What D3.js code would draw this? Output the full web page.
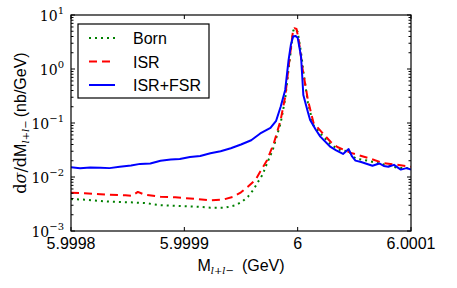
<!DOCTYPE html>
<html><head><meta charset="utf-8">
<script src="https://cdn.jsdelivr.net/npm/d3@7"></script>
<style>
body{margin:0;background:#fff;}
text{font-family:"Liberation Sans",Arial,sans-serif;}
</style></head>
<body><svg id="c" width="457" height="288"></svg>
<script>
// offsets from 6 GeV in units of 1e-6 GeV
const bornX = [-200,-188,-174,-166,-148,-135,-121,-104,-86,-77,-64,-55,-49,-44,-39,-35,-31,-27,-22,-15,-11,-8,-4,-3,0,3,5,9,14,22,29,38,45,51,62,76,88,100];
const bornY = [0.0039,0.0038,0.0036,0.0035,0.0034,0.0033,0.0030,0.0029,0.0028,0.0027,0.0027,0.0030,0.0035,0.0043,0.0058,0.0081,0.011,0.018,0.0316,0.1,0.28,1.0,5.0,5.6,4.9,2.0,0.9,0.24,0.09,0.058,0.04,0.031,0.03,0.022,0.020,0.017,0.0148,0.0145];
const isrX = [-200,-188,-174,-166,-152,-146,-141,-135,-121,-108,-95,-77,-66,-57,-50,-44,-37,-33,-27,-21,-15,-11,-8,-4,-3,-1,1,4,9,14,22,29,35,47,62,76,88,100];
const isrY = [0.0051,0.0050,0.0048,0.0047,0.0046,0.0045,0.0053,0.0047,0.0043,0.0042,0.0040,0.0037,0.0038,0.0043,0.0052,0.0066,0.0090,0.0126,0.0205,0.0424,0.114,0.306,1.10,5.3,5.7,5.5,3.4,1.1,0.27,0.1,0.065,0.045,0.036,0.028,0.0226,0.018,0.0168,0.0155];
const fsrX = [-200,-192,-183,-174,-166,-157,-147,-139,-130,-121,-112,-104,-95,-86,-77,-68,-59,-50,-41,-33,-24,-19,-15,-11,-8,-6,-4,-2,0,3,5,9,11,16,20,29,34,40,42,45,48,51,56,60,66,72,76,80,85,91,96,100];
const fsrY = [0.0151,0.0145,0.0150,0.0148,0.0146,0.0155,0.0163,0.0175,0.0178,0.0200,0.0210,0.0215,0.0235,0.0245,0.0275,0.030,0.034,0.040,0.048,0.064,0.081,0.11,0.2,0.41,1.47,2.8,4.0,4.1,3.8,1.69,0.33,0.16,0.114,0.075,0.056,0.036,0.031,0.0267,0.029,0.0329,0.024,0.0201,0.019,0.0178,0.0162,0.0178,0.016,0.0155,0.0168,0.0137,0.0146,0.0137];
const xTicks = [5.9998, 5.9999, 6, 6.0001];
const xTickLabels = ["5.9998","5.9999","6","6.0001"];
const yTickExp = [-3,-2,-1,0,1];
const legendNames = ["Born","ISR","ISR+FSR"];

const svg = d3.select("#c");
const L=71, R=411, T=15, B=231;
const x = d3.scaleLinear().domain([5.9998, 6.0001]).range([L, R]);
const y = d3.scaleLog().domain([1e-3, 10]).range([B, T]);
const toGeV = d => 6 + d*1e-6;

const series = [
  {name:"Born", xs:bornX, ys:bornY, color:"#008000", dash:"2,4", cap:"butt"},
  {name:"ISR", xs:isrX, ys:isrY, color:"#ff0000", dash:"8,5", cap:"butt"},
  {name:"ISR+FSR", xs:fsrX, ys:fsrY, color:"#0000ff", dash:null, cap:"butt"}
];
const line = d3.line().x(d=>x(d[0])).y(d=>y(d[1]));
svg.append("clipPath").attr("id","cp").append("rect").attr("x",L).attr("y",T).attr("width",R-L).attr("height",B-T);
const g = svg.append("g").attr("clip-path","url(#cp)");
series.forEach(s=>{
  const pts = s.xs.map((d,i)=>[toGeV(d), s.ys[i]]);
  g.append("path").attr("d", line(pts)).attr("fill","none").attr("stroke",s.color)
   .attr("stroke-width",2).attr("stroke-dasharray",s.dash).attr("stroke-linejoin","round");
});

// frame
svg.append("rect").attr("x",L).attr("y",T).attr("width",R-L).attr("height",B-T).attr("fill","none").attr("stroke","#000").attr("stroke-width",1.2);

// x ticks (inside, top and bottom)
xTicks.forEach((t,i)=>{
  const px = x(t);
  svg.append("line").attr("x1",px).attr("x2",px).attr("y1",B).attr("y2",B-4).attr("stroke","#000");
  svg.append("line").attr("x1",px).attr("x2",px).attr("y1",T).attr("y2",T+4).attr("stroke","#000");
  svg.append("text").attr("x",px).attr("y",B+18).attr("text-anchor","middle").attr("font-size",16).text(xTickLabels[i]);
});
// y ticks
yTickExp.forEach(e=>{
  const py = y(Math.pow(10,e));
  svg.append("line").attr("x1",L).attr("x2",L+4).attr("y1",py).attr("y2",py).attr("stroke","#000");
  svg.append("line").attr("x1",R).attr("x2",R-4).attr("y1",py).attr("y2",py).attr("stroke","#000");
  const t = svg.append("text").attr("x",L-7).attr("y",py+6).attr("text-anchor","end")
    .style("font-family","'DejaVu Serif',serif").attr("font-size",14);
  t.append("tspan").text("10");
  t.append("tspan").attr("dy",-7).attr("font-size",10).text(e<0?"\u2212"+(-e):String(e));
  if(e<1){
    for(let k=2;k<10;k++){
      const pm = y(k*Math.pow(10,e));
      svg.append("line").attr("x1",L).attr("x2",L+2.5).attr("y1",pm).attr("y2",pm).attr("stroke","#000");
      svg.append("line").attr("x1",R).attr("x2",R-2.5).attr("y1",pm).attr("y2",pm).attr("stroke","#000");
    }
  }
});

// x label
const xl = svg.append("text").attr("x",(L+R)/2).attr("y",271).attr("text-anchor","middle").attr("font-size",16);
xl.append("tspan").text("M");
xl.append("tspan").attr("dy",3).attr("font-size",10).style("font-style","italic").style("font-family","'DejaVu Serif',serif").text("l+l\u2212");
xl.append("tspan").attr("dy",-3).text("\u2002(GeV)");

// y label
const yl = svg.append("text").attr("transform","translate(26,"+((T+B)/2)+") rotate(-90)").attr("text-anchor","middle").attr("font-size",16);
yl.append("tspan").style("font-family","'DejaVu Serif',serif").text("d");
yl.append("tspan").style("font-family","'DejaVu Serif',serif").style("font-style","italic").text("\u03c3");
yl.append("tspan").style("font-family","'DejaVu Serif',serif").text("/d");
yl.append("tspan").text("M");
yl.append("tspan").attr("dy",3).attr("font-size",10).style("font-style","italic").style("font-family","'DejaVu Serif',serif").text("l+l\u2212");
yl.append("tspan").attr("dy",-3).text("\u2009(nb/GeV)");

// legend
const lg = svg.append("g");
lg.append("rect").attr("x",78).attr("y",24).attr("width",131).attr("height",74).attr("fill","#fff").attr("stroke","#000").attr("stroke-width",1.2);
series.forEach((s,i)=>{
  const yy = 38 + i*23.5;
  lg.append("line").attr("x1",89).attr("x2",115).attr("y1",yy).attr("y2",yy).attr("stroke",s.color).attr("stroke-width",2).attr("stroke-dasharray",s.dash);
  lg.append("text").attr("x",133).attr("y",yy+6).attr("font-size",16).text(legendNames[i]);
});
</script></body></html>
